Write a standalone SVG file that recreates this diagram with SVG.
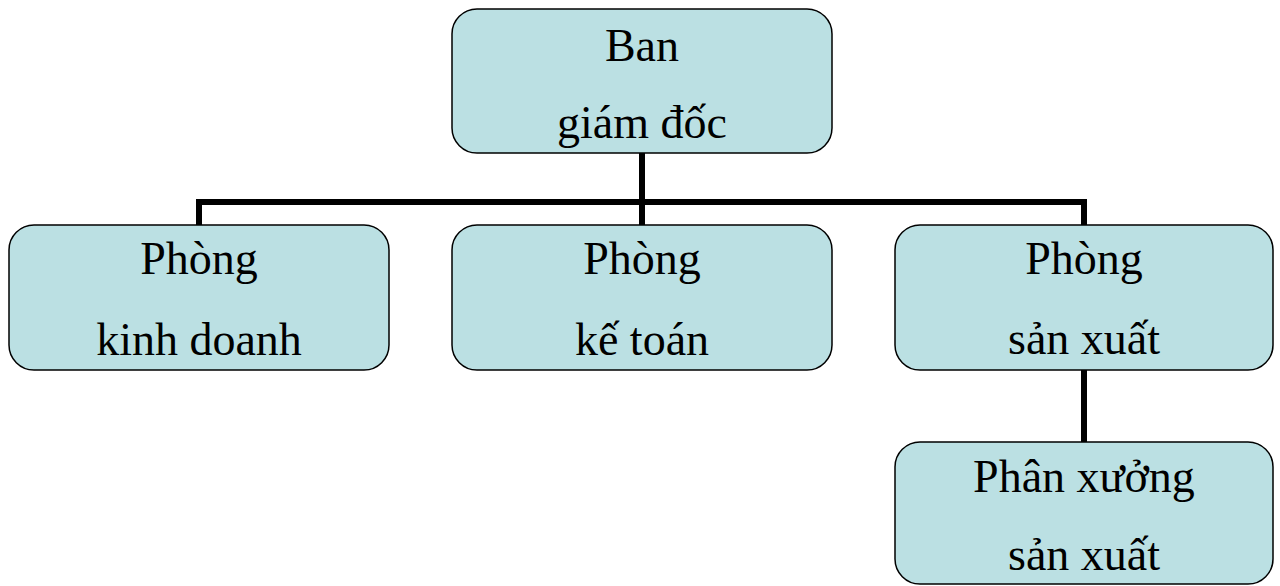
<svg xmlns="http://www.w3.org/2000/svg" width="1280" height="586" viewBox="0 0 1280 586">
<style>
.box{fill:#BBE0E3;stroke:#000;stroke-width:1.5}
.t{font-family:"Liberation Serif","Times New Roman",serif;font-size:46px;fill:#000;text-anchor:middle}
.c{stroke:#000;stroke-width:6;fill:none}
</style>
<rect width="1280" height="586" fill="#fff"/>
<g id="connectors">
<line class="c" x1="642" y1="153" x2="642" y2="226"/>
<polyline class="c" points="199,226 199,202 1084,202 1084,226"/>
<line class="c" x1="1084" y1="370" x2="1084" y2="442"/>
</g>
<g id="ban-giam-doc">
<rect class="box" x="452" y="9" width="380" height="144" rx="25"/>
<text class="t" x="642" y="61">Ban</text>
<text class="t" x="642" y="138">giám đốc</text>
</g>
<g id="phong-kinh-doanh">
<rect class="box" x="9" y="225" width="380" height="145" rx="25"/>
<text class="t" x="199" y="274">Phòng</text>
<text class="t" x="199" y="355">kinh doanh</text>
</g>
<g id="phong-ke-toan">
<rect class="box" x="452" y="225" width="380" height="145" rx="25"/>
<text class="t" x="642" y="274">Phòng</text>
<text class="t" x="642" y="355">kế toán</text>
</g>
<g id="phong-san-xuat">
<rect class="box" x="895" y="225" width="378" height="145" rx="25"/>
<text class="t" x="1084" y="274">Phòng</text>
<text class="t" x="1084" y="354">sản xuất</text>
</g>
<g id="phan-xuong-san-xuat">
<rect class="box" x="895" y="442" width="378" height="142" rx="25"/>
<text class="t" x="1084" y="492">Phân xưởng</text>
<text class="t" x="1084" y="570">sản xuất</text>
</g>
</svg>
